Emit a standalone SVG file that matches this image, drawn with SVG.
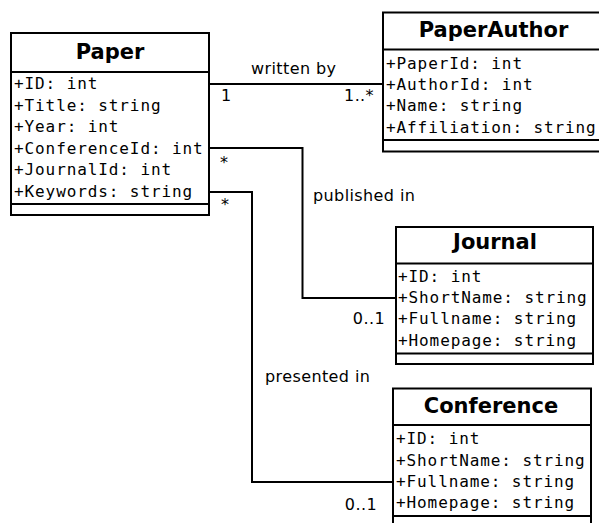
<svg xmlns="http://www.w3.org/2000/svg" width="599" height="523" viewBox="0 0 599 523">
<style>
.box{fill:#fff;stroke:#000;stroke-width:2}
.ln{stroke:#000;stroke-width:2;fill:none}
.title{font-family:"DejaVu Sans",sans-serif;font-weight:bold;font-size:21px;fill:#000;text-anchor:middle}
.attr{font-family:"DejaVu Sans Mono",monospace;font-size:16px;letter-spacing:0.9px;fill:#000}
.lbl{font-family:"DejaVu Sans",sans-serif;font-size:16px;letter-spacing:0.4px;fill:#000}
.end{text-anchor:end}
</style>
<rect width="599" height="523" fill="#fff"/>
<g id="connectors">
<path class="ln" d="M210 84 H383"/>
<path class="ln" d="M210 148 H302.5 V298 H396"/>
<path class="ln" d="M210 192 H252 V482 H393"/>
<text class="lbl" x="251" y="74">written by</text>
<text class="lbl" x="221" y="101">1</text>
<text class="lbl end" x="374" y="101">1..*</text>
<text class="lbl" x="313" y="201">published in</text>
<text class="lbl" x="220" y="168">*</text>
<text class="lbl end" x="385" y="324">0..1</text>
<text class="lbl" x="265" y="382">presented in</text>
<text class="lbl" x="221" y="210">*</text>
<text class="lbl end" x="377" y="510">0..1</text>
</g>
<g id="Paper">
<rect class="box" x="11" y="33" width="198" height="182"/>
<path class="ln" d="M11 72 H209 M11 204 H209"/>
<text class="title" x="110" y="59">Paper</text>
<text class="attr" x="14" y="89.3">+ID: int</text>
<text class="attr" x="14" y="110.7">+Title: string</text>
<text class="attr" x="14" y="132">+Year: int</text>
<text class="attr" x="14" y="153.5">+ConferenceId: int</text>
<text class="attr" x="14" y="175">+JournalId: int</text>
<text class="attr" x="14" y="196.5">+Keywords: string</text>
</g>
<g id="PaperAuthor">
<rect class="box" x="383" y="12.5" width="221" height="139"/>
<path class="ln" d="M383 49.5 H604 M383 140 H604"/>
<text class="title" x="493.5" y="36.7">PaperAuthor</text>
<text class="attr" x="386" y="68.5">+PaperId: int</text>
<text class="attr" x="386" y="90">+AuthorId: int</text>
<text class="attr" x="386" y="111.3">+Name: string</text>
<text class="attr" x="386" y="132.7">+Affiliation: string</text>
</g>
<g id="Journal">
<rect class="box" x="396" y="227" width="197" height="137"/>
<path class="ln" d="M396 263.5 H593 M396 353.5 H593"/>
<text class="title" x="495" y="249.3">Journal</text>
<text class="attr" x="398" y="281.7">+ID: int</text>
<text class="attr" x="398" y="303">+ShortName: string</text>
<text class="attr" x="398" y="324.3">+Fullname: string</text>
<text class="attr" x="398" y="345.6">+Homepage: string</text>
</g>
<g id="Conference">
<rect class="box" x="393" y="388.5" width="198" height="145"/>
<path class="ln" d="M393 425 H591 M393 516 H591"/>
<text class="title" x="491" y="413.3">Conference</text>
<text class="attr" x="396" y="444.3">+ID: int</text>
<text class="attr" x="396" y="465.6">+ShortName: string</text>
<text class="attr" x="396" y="487">+Fullname: string</text>
<text class="attr" x="396" y="508.3">+Homepage: string</text>
</g>
</svg>
